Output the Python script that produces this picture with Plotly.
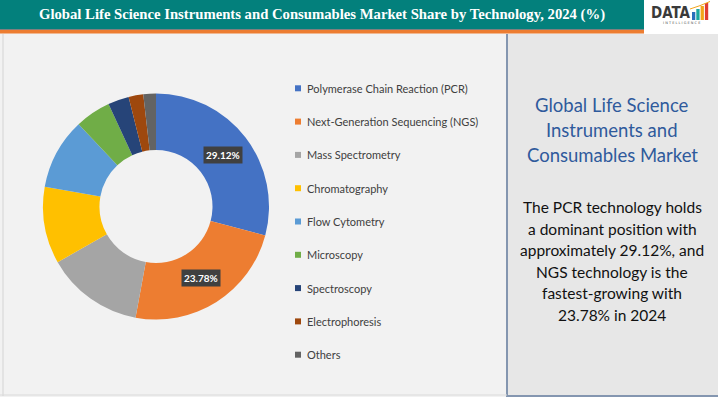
import math
import plotly.graph_objects as go

W, H = 718, 397

# ---------------- data ----------------
categories = [
    "Polymerase Chain Reaction (PCR)",
    "Next-Generation Sequencing (NGS)",
    "Mass Spectrometry",
    "Chromatography",
    "Flow Cytometry",
    "Microscopy",
    "Spectroscopy",
    "Electrophoresis",
    "Others",
]
shares = [29.12, 23.78, 13.9, 11.0, 10.2, 5.1, 3.0, 2.1, 1.8]
colors = ["#4472c4", "#ed7d31", "#a5a5a5", "#ffc000", "#5b9bd5",
          "#70ad47", "#264478", "#9e480e", "#636363"]
labelled = ["Polymerase Chain Reaction (PCR)", "Next-Generation Sequencing (NGS)"]

title_text = "Global Life Science Instruments and Consumables Market Share by Technology, 2024 (%)"
side_title = ["Global Life Science", "Instruments and", "Consumables Market"]
side_body = ["The PCR technology holds", "a dominant position with",
             "approximately 29.12%, and", "NGS technology is the",
             "fastest-growing with", "23.78% in 2024"]


def px(x):
    return x / W


def py(y):
    return 1 - y / H


fig = go.Figure()

# ---------------- doughnut ----------------
cx, cy, R = 156, 206.5, 113
hole = 0.5
fig.add_trace(go.Pie(
    labels=categories,
    values=shares,
    sort=False,
    direction="clockwise",
    rotation=0,
    hole=hole,
    marker=dict(colors=colors, line=dict(width=0)),
    textinfo="none",
    hoverinfo="label+percent",
    showlegend=False,
    domain=dict(x=[px(cx - R), px(cx + R)], y=[py(cy + R), py(cy - R)]),
))

shapes = []
annotations = []

# backgrounds
shapes.append(dict(type="rect", xref="paper", yref="paper", x0=0, x1=1, y0=py(397), y1=py(34),
                   fillcolor="#f2f2f2", line=dict(width=0), layer="below"))
shapes.append(dict(type="line", xref="paper", yref="paper", x0=px(3), x1=px(3), y0=py(396), y1=py(34),
                   line=dict(color="#d4d4d4", width=1), layer="below"))
shapes.append(dict(type="rect", xref="paper", yref="paper", x0=px(507), x1=1, y0=py(396), y1=py(34),
                   fillcolor="#e7e7e7", line=dict(width=0), layer="below"))
shapes.append(dict(type="line", xref="paper", yref="paper", x0=px(507), x1=px(507), y0=py(397), y1=py(34),
                   line=dict(color="#8496b0", width=2), layer="below"))
shapes.append(dict(type="line", xref="paper", yref="paper", x0=px(507), x1=1, y0=py(396), y1=py(396),
                   line=dict(color="#8496b0", width=2), layer="below"))
shapes.append(dict(type="line", xref="paper", yref="paper", x0=0, x1=px(507), y0=py(395), y1=py(395),
                   line=dict(color="#dadada", width=1), layer="below"))
# header
shapes.append(dict(type="rect", xref="paper", yref="paper", x0=0, x1=px(644), y0=py(29), y1=1,
                   fillcolor="#03807c", line=dict(width=0), layer="below"))
shapes.append(dict(type="rect", xref="paper", yref="paper", x0=0, x1=px(644), y0=py(30), y1=py(29),
                   fillcolor="#7f7f7f", line=dict(width=0), layer="below"))
shapes.append(dict(type="rect", xref="paper", yref="paper", x0=0, x1=px(644), y0=py(33.5), y1=py(30),
                   fillcolor="#ed7d31", line=dict(width=0), layer="below"))
shapes.append(dict(type="rect", xref="paper", yref="paper", x0=px(644), x1=1, y0=py(34), y1=1,
                   fillcolor="#ffffff", line=dict(width=0), layer="below"))

annotations.append(dict(text="<b>" + title_text + "</b>", xref="paper", yref="paper",
                        x=px(322), y=py(14.5), xanchor="center", yanchor="middle", showarrow=False,
                        font=dict(family="Liberation Serif", size=14.7, color="#ffffff")))

# logo
annotations.append(dict(text="<b>DATA</b>", xref="paper", yref="paper", x=px(649), y=py(13.5),
                        xanchor="left", yanchor="middle", showarrow=False,
                        font=dict(family="DejaVu Sans Condensed", size=15, color="#3a3a3a")))
logo_bars = [("#2a6ebb", 12), ("#1aa7a0", 9), ("#f2a51a", 6), ("#e03c31", 3)]
for i, (c, top) in enumerate(logo_bars):
    x0 = 692 + i * 4.3
    shapes.append(dict(type="rect", xref="paper", yref="paper", x0=px(x0), x1=px(x0 + 3.3),
                       y0=py(20), y1=py(top), fillcolor=c, line=dict(width=0)))
shapes.append(dict(type="path", xref="paper", yref="paper",
                   path=f"M {px(690)} {py(9)} Q {px(700)} {py(6)} {px(710)} {py(1.5)}",
                   line=dict(color="#f2a51a", width=1)))
annotations.append(dict(text="I N T E L L I G E N C E", xref="paper", yref="paper", x=px(681), y=py(23.5),
                        xanchor="center", yanchor="middle", showarrow=False,
                        font=dict(family="DejaVu Sans", size=3.5, color="#555555")))

# ---------------- data labels ----------------
total = sum(shares)
cum = 0.0
r_mid = R * (1 + hole) / 2
for cat, v in zip(categories, shares):
    mid = (cum + v / 2) / total * 2 * math.pi
    cum += v
    if cat in labelled:
        lx = cx + r_mid * math.sin(mid)
        ly = cy - r_mid * math.cos(mid)
        annotations.append(dict(text=f"<b>{v:.2f}%</b>", xref="paper", yref="paper",
                                x=px(lx), y=py(ly), xanchor="center", yanchor="middle",
                                showarrow=False, bgcolor="#404040", borderpad=2,
                                font=dict(family="Lato", size=10, color="#ffffff")))

# ---------------- legend ----------------
leg_y0, leg_step = 88.3, 33.3
for i, (cat, c) in enumerate(zip(categories, colors)):
    yy = leg_y0 + i * leg_step
    shapes.append(dict(type="rect", xref="paper", yref="paper", x0=px(295), x1=px(301),
                       y0=py(yy + 3), y1=py(yy - 3), fillcolor=c, line=dict(width=0)))
    annotations.append(dict(text=cat, xref="paper", yref="paper", x=px(304.5), y=py(yy),
                            xanchor="left", yanchor="middle", showarrow=False,
                            font=dict(family="Lato", size=11, color="#404040")))

# ---------------- side panel ----------------
pcx = 612
for i, line in enumerate(side_title):
    annotations.append(dict(text=line, xref="paper", yref="paper", x=px(pcx), y=py(105 + i * 25),
                            xanchor="center", yanchor="middle", showarrow=False,
                            font=dict(family="Lato", size=18.5, color="#2f5a9c")))
for i, line in enumerate(side_body):
    annotations.append(dict(text=line, xref="paper", yref="paper", x=px(pcx), y=py(207 + i * 21.5),
                            xanchor="center", yanchor="middle", showarrow=False,
                            font=dict(family="Lato", size=15.5, color="#111111")))

fig.update_layout(
    width=W, height=H,
    margin=dict(l=0, r=0, t=0, b=0),
    paper_bgcolor="#f2f2f2",
    plot_bgcolor="#f2f2f2",
    shapes=shapes,
    annotations=annotations,
    showlegend=False,
)

fig.write_html("out.html", config={"displayModeBar": False},
               post_script="document.body.style.margin='0';document.body.style.overflow='hidden';")
